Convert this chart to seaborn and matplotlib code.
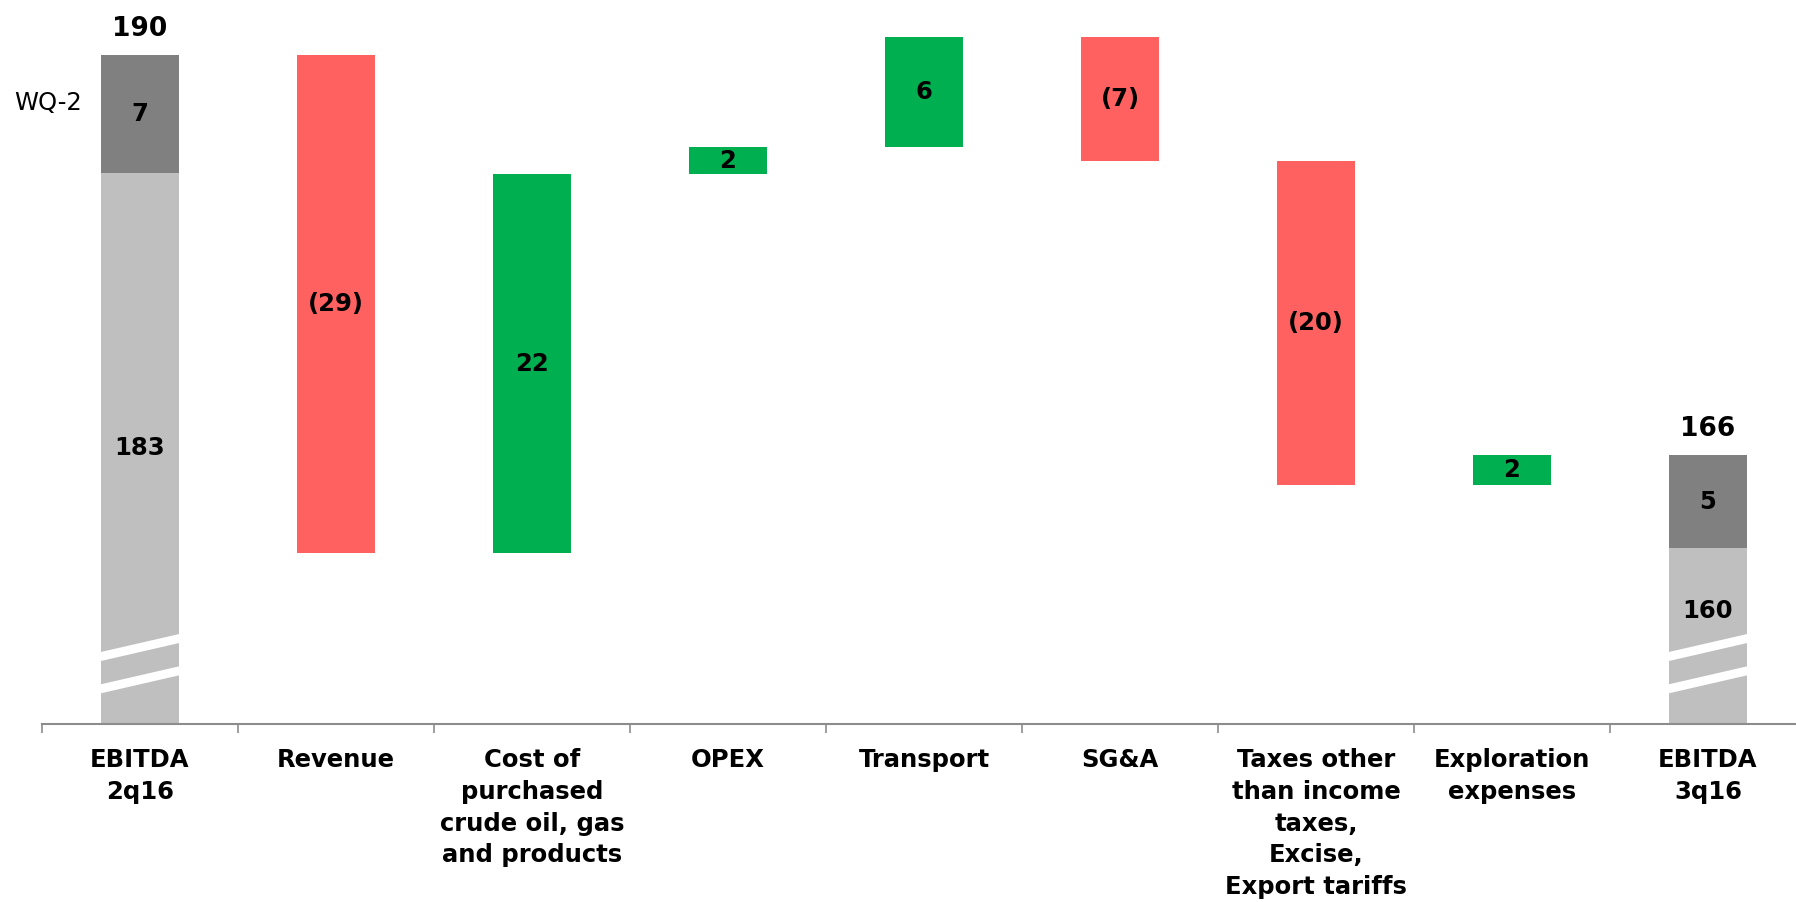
import numpy as np
import matplotlib
matplotlib.use("Agg")
import matplotlib.pyplot as plt
import seaborn as sns
from matplotlib.patches import Polygon

# categories along the x axis
categories = ["EBITDA\n2q16", "Revenue", "Cost of\npurchased\ncrude oil, gas\nand products",
              "OPEX", "Transport", "SG&A",
              "Taxes other\nthan income\ntaxes,\nExcise,\nExport tariffs",
              "Exploration\nexpenses", "EBITDA\n3q16"]

# values
start_total = 190.0
start_wq2 = 6.9
deltas = [-29.3, 22.3, 1.6, 6.5, -7.3, -19.1, 1.75]
end_wq2 = 5.45

total_labels = ["190", "166"]
base_labels = ["183", "160"]
wq2_labels = ["7", "5"]
delta_labels = ["(29)", "22", "2", "6", "(7)", "(20)", "2"]

RED = "#FF6161"
GREEN = "#00B050"
DARK = "#808080"
LIGHT = "#BFBFBF"
AXIS = "#8C8C8C"

sns.set_theme(style="white")
plt.rcParams["font.family"] = ["DejaVu Sans"]
plt.rcParams["text.color"] = "black"
plt.rcParams["xtick.color"] = "black"

# waterfall steps
running = start_total
lows, heights, ups = [], [], []
for d in deltas:
    lows.append(min(running, running + d))
    heights.append(abs(d))
    ups.append(d > 0)
    running += d
end_total = running

y_base = 150.65
y_top = 193.25

fig = plt.figure(figsize=(17.96, 9.02), dpi=100)
ax = fig.add_axes([42 / 1796, 178 / 902, 1764 / 1796, 724 / 902])

total_x = [categories[0], categories[-1]]
totals = [start_total, end_total]
wq2 = [start_wq2, end_wq2]
split = [t - w for t, w in zip(totals, wq2)]

bar_kw = dict(order=categories, width=0.4, errorbar=None, saturation=1, linewidth=0, ax=ax)

# total bars: light base part + dark WQ-2 part
sns.barplot(x=total_x, y=[s - y_base for s in split], bottom=y_base, color=LIGHT, **bar_kw)
sns.barplot(x=total_x, y=wq2, bottom=split, color=DARK, **bar_kw)

# floating bars
step_x = categories[1:-1]
pos = [i for i, u in enumerate(ups) if u]
neg = [i for i, u in enumerate(ups) if not u]
sns.barplot(x=[step_x[i] for i in pos], y=[heights[i] for i in pos],
            bottom=[lows[i] for i in pos], color=GREEN, **bar_kw)
sns.barplot(x=[step_x[i] for i in neg], y=[heights[i] for i in neg],
            bottom=[lows[i] for i in neg], color=RED, **bar_kw)

ax.set_xlim(-0.5, 8.5)
ax.set_ylim(y_base, y_top)

# axis break stripes on the total bars
slope = 2.65
half = 0.265
for xi in [0, 8]:
    for by in [155.15, 153.25]:
        x0, x1 = xi - 0.22, xi + 0.22
        y0 = by + slope * (x0 - xi)
        y1 = by + slope * (x1 - xi)
        ax.add_patch(Polygon([(x0, y0 - half), (x1, y1 - half), (x1, y1 + half), (x0, y0 + half)],
                             closed=True, facecolor="white", edgecolor="none", zorder=5))

lab_kw = dict(ha="center", va="center", fontsize=17.5, fontweight="bold", color="black", zorder=6)

# labels on total bars
for xi, tot, spl, w, tl, bl, wl, by in zip([0, 8], totals, split, wq2, total_labels, base_labels,
                                            wq2_labels, [(y_base + split[0]) / 2, 157.3]):
    ax.annotate(tl, (xi, tot), xytext=(0, 14), textcoords="offset points",
                ha="center", va="baseline", fontsize=19, fontweight="bold", color="black")
    ax.text(xi, spl + w / 2, wl, **lab_kw)
    ax.text(xi, by, bl, **lab_kw)

# labels on floating bars
for i, lab in enumerate(delta_labels):
    ax.text(i + 1, lows[i] + heights[i] / 2, lab, **lab_kw)

ax.text(-0.297, 187.2, "WQ-2", ha="right", va="center", fontsize=17.5, color="black")

# axes styling
for s in ["top", "right", "left"]:
    ax.spines[s].set_visible(False)
ax.spines["bottom"].set_color(AXIS)
ax.spines["bottom"].set_linewidth(1.5)
ax.set_yticks([])
ax.set_xlabel("")
ax.set_ylabel("")
ax.set_xticks(range(len(categories)))
ax.set_xticklabels(categories, fontsize=17.5, fontweight="bold", linespacing=1.4, color="black")
ax.set_xticks(np.arange(-0.5, len(categories), 1), minor=True)
ax.tick_params(axis="x", which="major", bottom=True, length=0, pad=17.5)
ax.tick_params(axis="x", which="minor", bottom=True, length=6.5, width=1.2, color=AXIS)

fig.savefig("out.png", dpi=100)
